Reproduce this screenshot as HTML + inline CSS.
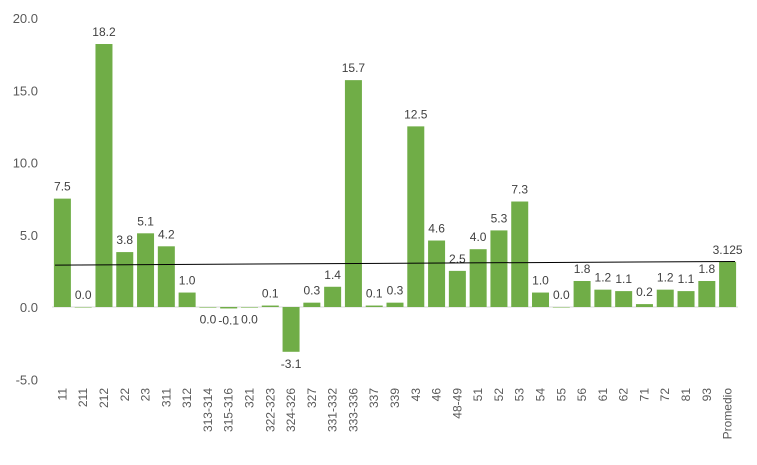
<!DOCTYPE html>
<html><head><meta charset="utf-8"><style>
body{margin:0;background:#fff;}
svg{font-family:"Liberation Sans",sans-serif;}
</style></head><body>
<svg id="chart" width="757" height="460"></svg>
<script>
const categories=["11","211","212","22","23","311","312","313-314","315-316","321","322-323","324-326","327","331-332","333-336","337","339","43","46","48-49","51","52","53","54","55","56","61","62","71","72","81","93","Promedio"];
const values=[7.5,0.0,18.2,3.8,5.1,4.2,1.0,-0.04,-0.1,-0.04,0.1,-3.1,0.3,1.4,15.7,0.1,0.3,12.5,4.6,2.5,4.0,5.3,7.3,1.0,0.0,1.8,1.2,1.1,0.2,1.2,1.1,1.8,3.125];
const labels=["7.5","0.0","18.2","3.8","5.1","4.2","1.0","0.0","-0.1","0.0","0.1","-3.1","0.3","1.4","15.7","0.1","0.3","12.5","4.6","2.5","4.0","5.3","7.3","1.0","0.0","1.8","1.2","1.1","0.2","1.2","1.1","1.8","3.125"];
const yTicks=[-5,0,5,10,15,20];
const trendLine=[2.9,3.15];
const svg=document.getElementById('chart');
const NS='http://www.w3.org/2000/svg';
const x0=52,x1=738,bw=(x1-x0)/categories.length;
const y=v=>307-v*14.45;
const xc=i=>x0+bw*(i+0.5);
function mk(t,a,txt){const e=document.createElementNS(NS,t);for(const k in a)e.setAttribute(k,a[k]);if(txt!==undefined)e.textContent=txt;svg.appendChild(e);return e;}
yTicks.forEach(t=>{
 const e=mk('text',{x:38,y:y(t)+5,'text-anchor':'end','font-size':13,fill:'#595959'},t.toFixed(1));
 
 
});
const zl=mk('line',{x1:x0,x2:x1,y1:y(0),y2:y(0),stroke:'#d9d9d9','stroke-width':1});


categories.forEach((c,i)=>{
 const v=values[i];
 const top=Math.min(y(v),y(0)),h=Math.abs(y(v)-y(0));
 const r=mk('rect',{x:xc(i)-8.5,y:top,width:17,height:Math.max(h,0.5),fill:'#70ad47'});
 
 
 const ly=v>=0?y(v)-8:y(v)+16;
 const l=mk('text',{x:xc(i),y:ly,'text-anchor':'middle','font-size':12,fill:'#404040'},labels[i]);
 
 
 const xl=mk('text',{x:0,y:0,'text-anchor':'end','font-size':12,fill:'#595959',transform:`translate(${xc(i)+4},388) rotate(-90)`},c);
 
 
});
const tl=mk('line',{x1:55,x2:735,y1:y(trendLine[0]),y2:y(trendLine[1]),stroke:'#000','stroke-width':1});


</script>
</body></html>
